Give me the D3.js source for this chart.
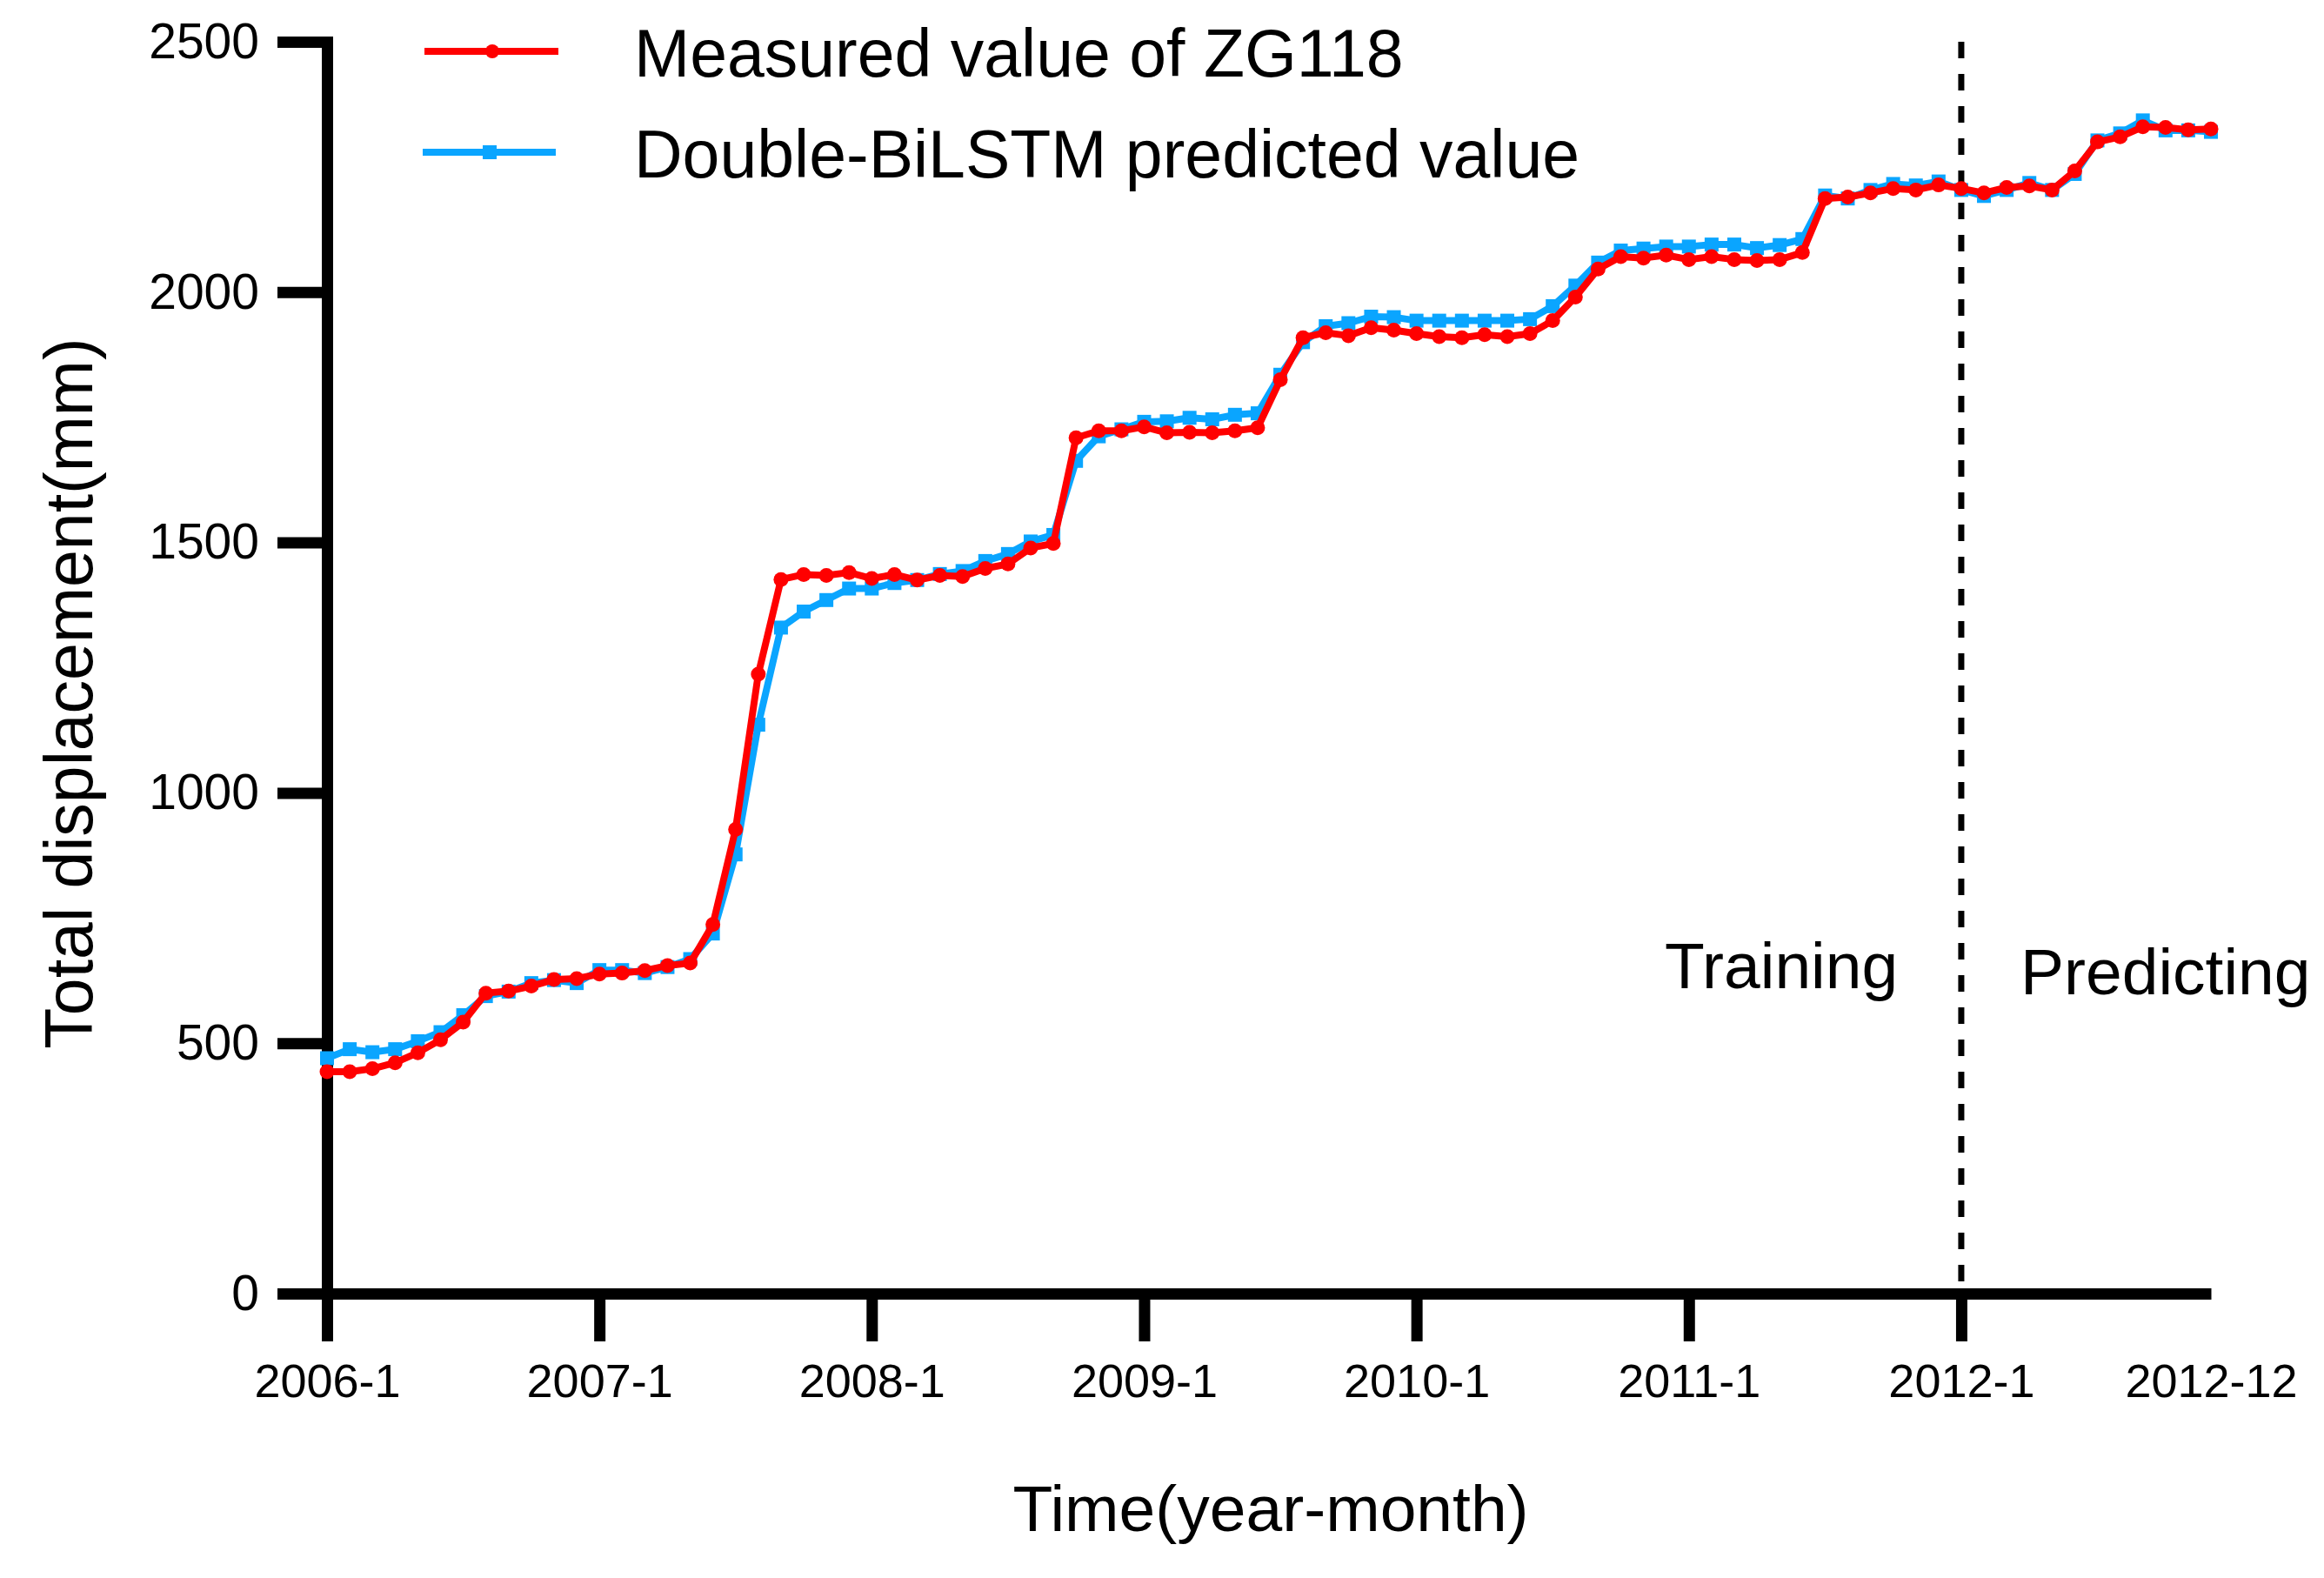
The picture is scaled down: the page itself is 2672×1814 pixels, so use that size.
<!DOCTYPE html>
<html>
<head>
<meta charset="utf-8">
<script src="https://cdn.jsdelivr.net/npm/d3@7"></script>
<style>
  html, body { margin: 0; padding: 0; background: #fff; }
  svg text { font-family: "Liberation Sans", Arial, Helvetica, sans-serif; fill: #000; }
</style>
</head>
<body>
<div id="chart"></div>
<script>
// Monthly total displacement of ZG118, 2006-1 .. 2012-12 (84 months)
let measured = [
    443, 443, 449, 461, 481, 507, 542, 600, 604, 614, 627, 629,
    638, 640, 645, 655, 660, 737, 927, 1237, 1426, 1436, 1434, 1440,
    1428, 1436, 1425, 1434, 1432, 1448, 1457, 1489, 1498, 1709, 1723, 1723,
    1731, 1719, 1720, 1719, 1723, 1729, 1825, 1909, 1919, 1913, 1929, 1924,
    1917, 1911, 1909, 1915, 1911, 1917, 1943, 1990, 2046, 2071, 2068, 2074,
    2065, 2071, 2065, 2063, 2065, 2079, 2187, 2190, 2198, 2207, 2204, 2214,
    2207, 2198, 2209, 2212, 2204, 2242, 2300, 2310, 2330, 2329, 2324, 2326
];

let predicted = [
    470, 488, 482, 488, 504, 522, 556, 594, 603, 620, 626, 620,
    646, 646, 640, 652, 668, 719, 877, 1136, 1330, 1362, 1385, 1408,
    1408, 1419, 1425, 1437, 1443, 1463, 1477, 1502, 1515, 1663, 1712, 1726,
    1741, 1742, 1749, 1746, 1755, 1758, 1835, 1900, 1932, 1938, 1951, 1950,
    1943, 1943, 1943, 1943, 1943, 1946, 1972, 2013, 2059, 2083, 2087, 2091,
    2091, 2095, 2095, 2088, 2094, 2106, 2193, 2187, 2204, 2216, 2213, 2221,
    2204, 2192, 2204, 2218, 2204, 2236, 2303, 2317, 2343, 2323, 2323, 2320
];

let xTickMonths = [0, 12, 24, 36, 48, 60, 72, 83];
let xTickLabels = ["2006-1", "2007-1", "2008-1", "2009-1", "2010-1", "2011-1", "2012-1", "2012-12"];
let yTickValues = [0, 500, 1000, 1500, 2000, 2500];
let splitMonth = 72;

let seriesNames = ["Measured value of ZG118", "Double-BiLSTM predicted value"];

let svgWidth = 2672;
let svgHeight = 1814;

let margin = { top: 48, right: 130, bottom: 327, left: 376 };
let width = svgWidth - margin.left - margin.right;
let height = svgHeight - margin.top - margin.bottom;

let red = "#ff0000";
let blue = "#0aa5ff";

let svg = d3.select("#chart")
    .append("svg")
    .attr("width", svgWidth)
    .attr("height", svgHeight);

let chartGroup = svg.append("g")
    .attr("transform", `translate(${margin.left}, ${margin.top})`);

// Scales
let xScale = d3.scaleLinear()
    .domain([0, measured.length - 1])
    .range([0, width]);

let yScale = d3.scaleLinear()
    .domain([0, 2500])
    .range([height, 0]);

// Axes
let bottomAxis = d3.axisBottom(xScale)
    .tickValues(xTickMonths)
    .tickFormat((d, i) => xTickLabels[i])
    .tickSize(55)
    .tickSizeOuter(0)
    .tickPadding(26);

let leftAxis = d3.axisLeft(yScale)
    .tickValues(yTickValues)
    .tickFormat(d3.format("d"))
    .tickSize(57)
    .tickSizeOuter(0)
    .tickPadding(21);

let xAxisG = chartGroup.append("g")
    .attr("transform", `translate(0, ${height})`)
    .call(bottomAxis);

let yAxisG = chartGroup.append("g")
    .call(leftAxis);

xAxisG.select(".domain").attr("stroke-width", 13);
xAxisG.selectAll(".tick line").attr("stroke-width", 13);
xAxisG.selectAll(".tick").filter(d => d === 83).select("line").remove();
xAxisG.selectAll(".tick text")
    .style("font-size", "54px");

yAxisG.select(".domain").attr("stroke-width", 13).attr("stroke-linecap", "square");
yAxisG.selectAll(".tick line").attr("stroke-width", 13);
yAxisG.selectAll(".tick text")
    .style("font-size", "57px");

// Training / predicting split
chartGroup.append("line")
    .attr("x1", xScale(splitMonth))
    .attr("x2", xScale(splitMonth))
    .attr("y1", yScale(2500))
    .attr("y2", yScale(0) - 8)
    .attr("stroke", "#000")
    .attr("stroke-width", 7)
    .attr("stroke-dasharray", "19 18");

chartGroup.append("text")
    .attr("x", 1914 - margin.left)
    .attr("y", 1136 - margin.top)
    .style("font-size", "75px")
    .text("Training");

chartGroup.append("text")
    .attr("x", 2323 - margin.left)
    .attr("y", 1143 - margin.top)
    .style("font-size", "75px")
    .text("Predicting");

// Lines
let line = d3.line()
    .x((d, i) => xScale(i))
    .y(d => yScale(d));

chartGroup.append("path")
    .datum(predicted)
    .attr("fill", "none")
    .attr("stroke", blue)
    .attr("stroke-width", 8)
    .attr("stroke-linejoin", "round")
    .attr("d", line);

chartGroup.selectAll(".pred-mark")
    .data(predicted)
    .enter()
    .append("rect")
    .attr("class", "pred-mark")
    .attr("x", (d, i) => xScale(i) - 8)
    .attr("y", d => yScale(d) - 8)
    .attr("width", 16)
    .attr("height", 16)
    .attr("fill", blue);

chartGroup.append("path")
    .datum(measured)
    .attr("fill", "none")
    .attr("stroke", red)
    .attr("stroke-width", 8)
    .attr("stroke-linejoin", "round")
    .attr("d", line);

chartGroup.selectAll(".meas-mark")
    .data(measured)
    .enter()
    .append("circle")
    .attr("class", "meas-mark")
    .attr("cx", (d, i) => xScale(i))
    .attr("cy", d => yScale(d))
    .attr("r", 8.5)
    .attr("fill", red);

// Legend
let legend = svg.append("g");

legend.append("line")
    .attr("x1", 488).attr("x2", 642)
    .attr("y1", 59).attr("y2", 59)
    .attr("stroke", red).attr("stroke-width", 8);
legend.append("circle")
    .attr("cx", 566).attr("cy", 59).attr("r", 8)
    .attr("fill", red);
legend.append("text")
    .attr("x", 729).attr("y", 88)
    .style("font-size", "77px")
    .text(seriesNames[0]);

legend.append("line")
    .attr("x1", 486).attr("x2", 639)
    .attr("y1", 175).attr("y2", 175)
    .attr("stroke", blue).attr("stroke-width", 8);
legend.append("rect")
    .attr("x", 555).attr("y", 167).attr("width", 16).attr("height", 16)
    .attr("fill", blue);
legend.append("text")
    .attr("x", 729).attr("y", 204)
    .style("font-size", "77px")
    .text(seriesNames[1]);

// Axis titles
svg.append("text")
    .attr("transform", "translate(106, 797) rotate(-90)")
    .attr("text-anchor", "middle")
    .style("font-size", "77px")
    .text("Total displacement(mm)");

svg.append("text")
    .attr("x", 1461)
    .attr("y", 1760)
    .attr("text-anchor", "middle")
    .style("font-size", "75px")
    .text("Time(year-month)");
</script>
</body>
</html>
